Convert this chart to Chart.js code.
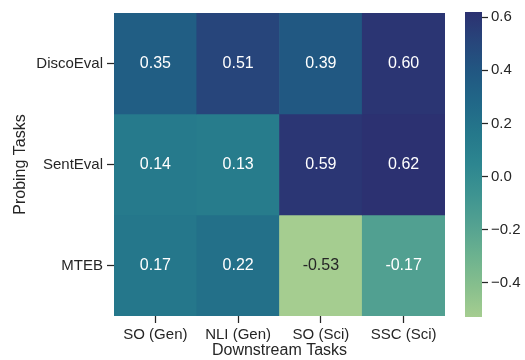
<!DOCTYPE html>
<html>
<head>
<meta charset="utf-8">
<script src="https://cdn.jsdelivr.net/npm/chart.js@4/dist/chart.umd.min.js"></script>
<style>
  html, body { margin: 0; padding: 0; background: #ffffff; }
  #wrap { position: relative; width: 525px; height: 360px; }
  #wrap canvas { position: absolute; left: 0; top: 0; }
</style>
</head>
<body>
<div id="wrap">
  <canvas id="heat" width="525" height="360"></canvas>
  <canvas id="cbar" width="525" height="360"></canvas>
</div>
<script>
// Correlation between probing-task and downstream-task scores
const probingTasks = ['DiscoEval', 'SentEval', 'MTEB'];
const downstreamTasks = ['SO (Gen)', 'NLI (Gen)', 'SO (Sci)', 'SSC (Sci)'];
const discoEvalScores = [0.35, 0.51, 0.39, 0.60];
const sentEvalScores = [0.14, 0.13, 0.59, 0.62];
const mtebScores = [0.17, 0.22, -0.53, -0.17];
const colorbarTicks = [-0.4, -0.2, 0.0, 0.2, 0.4, 0.6];
const rowScores = [discoEvalScores, sentEvalScores, mtebScores];

const allScores = rowScores.flat();
const vmin = Math.min(...allScores);
const vmax = Math.max(...allScores);

const FONT = "'Liberation Sans', Arial, sans-serif";
const INK = '#262626';

// "crest"-style sequential palette, light green -> dark indigo
const crestStops = [
  [165, 205, 144], [135, 191, 141], [108, 178, 143], [84, 162, 145],
  [62, 148, 145], [45, 134, 144], [37, 120, 139], [33, 104, 136],
  [33, 88, 130], [39, 70, 123], [44, 49, 113]
];
function crestRGB(t) {
  t = Math.max(0, Math.min(1, t));
  const p = t * (crestStops.length - 1);
  const i = Math.min(Math.floor(p), crestStops.length - 2);
  const f = p - i;
  const a = crestStops[i], b = crestStops[i + 1];
  return a.map((c, k) => Math.round(c + (b[k] - c) * f));
}
function colorFor(v) {
  const [r, g, b] = crestRGB((v - vmin) / (vmax - vmin));
  return `rgb(${r},${g},${b})`;
}
function luminance(v) {
  const rgb = crestRGB((v - vmin) / (vmax - vmin)).map(c => {
    c /= 255;
    return c <= 0.03928 ? c / 12.92 : Math.pow((c + 0.055) / 1.055, 2.4);
  });
  return 0.2126 * rgb[0] + 0.7152 * rgb[1] + 0.0722 * rgb[2];
}

// Each probing task is one row of floating bars spanning [row, row + 1]
const heatDatasets = rowScores.map((scores, row) => ({
  label: probingTasks[row],
  data: scores.map(() => [row, row + 1]),
  scores: scores,
  backgroundColor: scores.map(colorFor),
  borderWidth: 0,
  barPercentage: 1,
  categoryPercentage: 1,
  grouped: false
}));

// Writes each cell's value in its centre
const cellLabels = {
  id: 'cellLabels',
  afterDatasetsDraw(chart) {
    const ctx = chart.ctx;
    ctx.save();
    ctx.font = `16px ${FONT}`;
    ctx.textAlign = 'center';
    ctx.textBaseline = 'middle';
    chart.data.datasets.forEach((ds, di) => {
      chart.getDatasetMeta(di).data.forEach((el, i) => {
        const v = ds.scores[i];
        ctx.fillStyle = luminance(v) > 0.408 ? INK : '#ffffff';
        ctx.fillText(v.toFixed(2), el.x, (el.y + el.base) / 2);
      });
    });
    ctx.restore();
  }
};

new Chart(document.getElementById('heat'), {
  type: 'bar',
  data: { labels: downstreamTasks, datasets: heatDatasets },
  plugins: [cellLabels],
  options: {
    responsive: false,
    animation: false,
    events: [],
    layout: { padding: { left: 0, top: 7, right: 80, bottom: 0 } },
    plugins: { legend: { display: false }, tooltip: { enabled: false } },
    scales: {
      x: {
        grid: { drawOnChartArea: false, drawTicks: true, tickLength: 7, tickColor: INK, tickWidth: 1.25, offset: false },
        border: { display: false },
        ticks: { color: INK, font: { family: FONT, size: 15 }, padding: 3, maxRotation: 0 },
        title: { display: true, text: 'Downstream Tasks', color: INK, font: { family: FONT, size: 16 }, padding: { top: 0, bottom: 0 } },
        afterFit(scale) { scale.height = 44; }
      },
      y: {
        min: 0, max: probingTasks.length, reverse: true,
        grid: { drawOnChartArea: false, drawTicks: true, tickLength: 7, tickColor: INK, tickWidth: 1.25 },
        border: { display: false },
        afterBuildTicks(scale) { scale.ticks = probingTasks.map((_, i) => ({ value: i + 0.5 })); },
        ticks: {
          color: INK, font: { family: FONT, size: 15 }, padding: 4,
          callback: (value, index) => probingTasks[index]
        },
        title: { display: true, text: 'Probing Tasks', color: INK, font: { family: FONT, size: 16 }, padding: { top: 11, bottom: 0 } },
        afterFit(scale) { scale.width = 114; }
      }
    }
  }
});

// Colour bar: a single floating bar from vmin to vmax filled with the palette
function colorbarFill(context) {
  const chart = context.chart;
  if (!chart.chartArea) return colorFor(vmax);
  const y = chart.scales.y;
  const g = chart.ctx.createLinearGradient(0, y.getPixelForValue(vmin), 0, y.getPixelForValue(vmax));
  crestStops.forEach((c, i) => g.addColorStop(i / (crestStops.length - 1), `rgb(${c[0]},${c[1]},${c[2]})`));
  return g;
}

new Chart(document.getElementById('cbar'), {
  type: 'bar',
  data: {
    labels: [''],
    datasets: [{ data: [[vmin, vmax]], backgroundColor: colorbarFill, borderWidth: 0, barPercentage: 1, categoryPercentage: 1 }]
  },
  options: {
    responsive: false,
    animation: false,
    events: [],
    layout: { padding: { left: 465, top: 7, right: 0, bottom: 43 } },
    plugins: { legend: { display: false }, tooltip: { enabled: false } },
    scales: {
      x: { display: false },
      y: {
        position: 'right',
        min: vmin, max: vmax,
        grid: { drawOnChartArea: false, drawTicks: true, tickLength: 6, tickColor: INK, tickWidth: 1.25 },
        border: { display: false },
        afterBuildTicks(scale) { scale.ticks = colorbarTicks.map(v => ({ value: v })); },
        ticks: {
          color: INK, font: { family: FONT, size: 15 }, padding: 3,
          callback: (value) => value.toFixed(1).replace('-', '\u2212')
        },
        afterFit(scale) { scale.width = 43; }
      }
    }
  }
});
</script>
</body>
</html>
